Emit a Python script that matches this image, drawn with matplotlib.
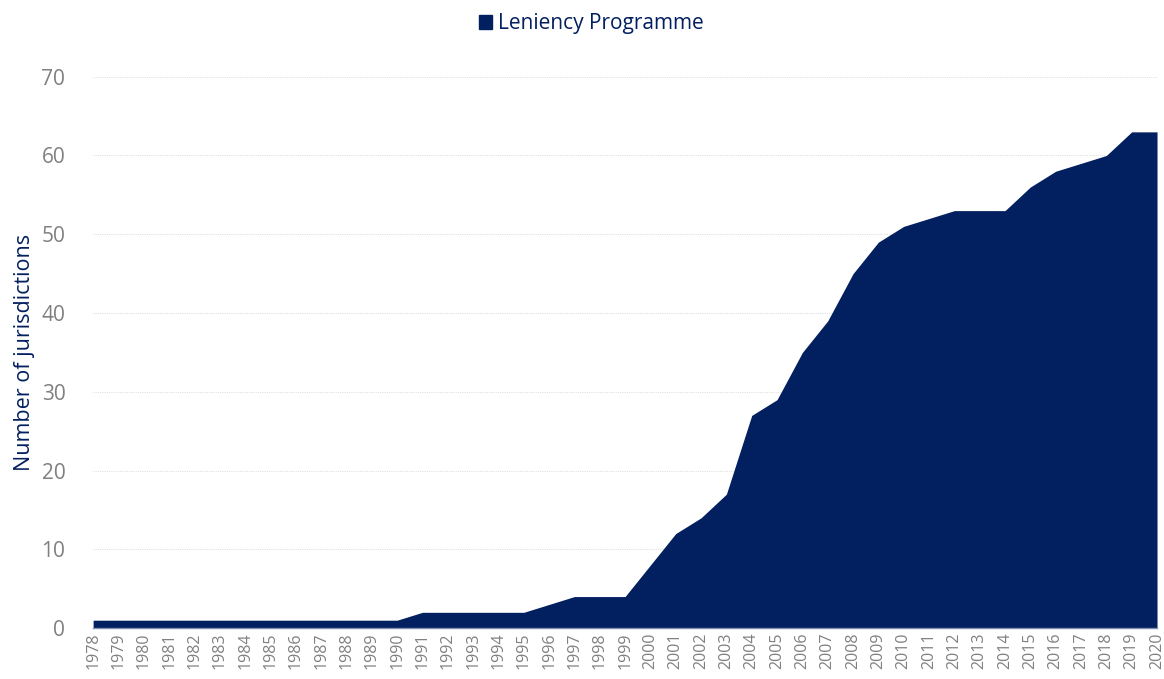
import matplotlib.pyplot as plt
from matplotlib.patches import Patch

plt.rcParams['font.family'] = ['Open Sans', 'DejaVu Sans']

# Datos
years = list(range(1978, 2021))
jurisdictions = [1, 1, 1, 1, 1, 1, 1, 1, 1, 1, 1, 1, 1,   # 1978-1990
                 2, 2, 2, 2, 2,                         # 1991-1995
                 3, 4, 4, 4,                            # 1996-1999
                 8, 12, 14, 17, 27, 29, 35, 39, 45, 49,  # 2000-2009
                 51, 52, 53, 53, 53, 56, 58, 59, 60, 63, 63]  # 2010-2020
y_ticks = [0, 10, 20, 30, 40, 50, 60, 70]

navy = '#021F5F'
grey = '#808080'

fig = plt.figure(figsize=(11.64, 6.79), dpi=100)
ax = fig.add_axes([0.080, 0.075, 0.914, 0.812])

ax.fill_between(years, jurisdictions, 0, color=navy, linewidth=0)

ax.set_xlim(years[0], years[-1])
ax.set_ylim(0, 70)
ax.set_yticks(y_ticks)
ax.set_xticks(years)
ax.set_xticklabels([str(y) for y in years], rotation=90, fontsize=11.5, color=grey)
ax.tick_params(axis='y', labelsize=15, labelcolor=grey, length=0, pad=20)
ax.tick_params(axis='x', length=0, pad=3)

ax.grid(axis='y', color='#e0e0e0', linestyle=(0, (1, 1)), linewidth=0.8)
ax.set_axisbelow(True)
for s in ['top', 'right', 'left']:
    ax.spines[s].set_visible(False)
ax.spines['bottom'].set_color('#8090b0')
ax.spines['bottom'].set_linewidth(1)

ax.set_ylabel('Number of jurisdictions', fontsize=15.5, color=navy, labelpad=5)

fig.legend(handles=[Patch(color=navy, label='Leniency Programme')],
           loc='upper center', bbox_to_anchor=(0.508, 1.008), frameon=False,
           fontsize=15, labelcolor=navy, handlelength=0.6, handleheight=0.6,
           handletextpad=0.3)

fig.savefig('out.png', dpi=100)
